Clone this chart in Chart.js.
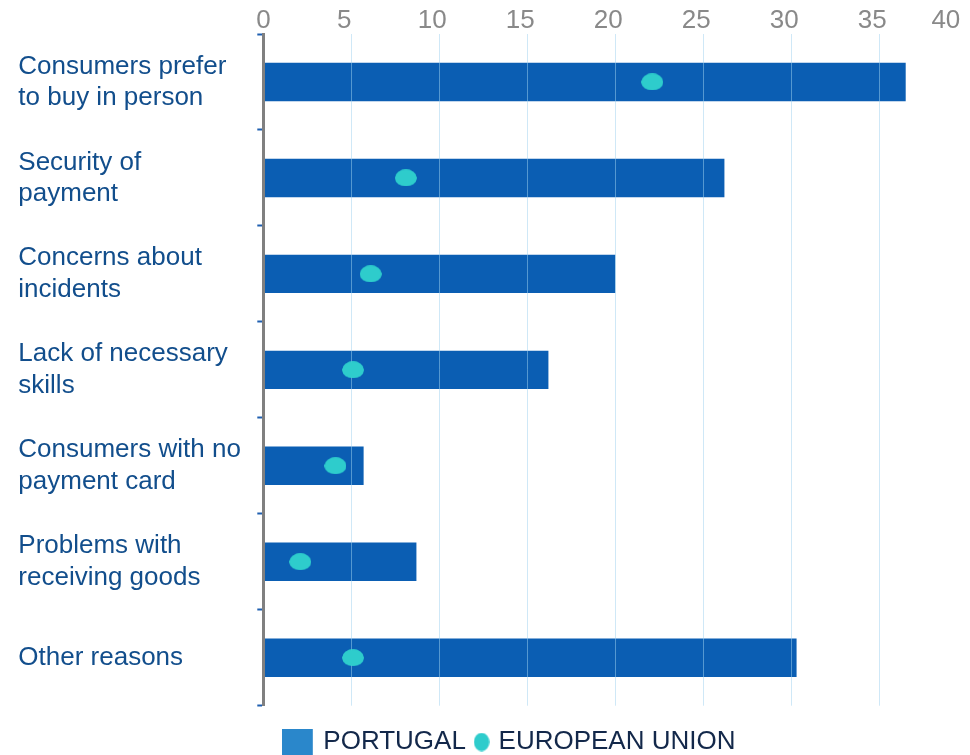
<!DOCTYPE html>
<html>
<head>
<meta charset="utf-8">
<script src="https://cdn.jsdelivr.net/npm/chart.js@4/dist/chart.umd.min.js"></script>
<style>
  html, body { margin: 0; padding: 0; background: #ffffff; overflow: hidden; }
  #wrap { width: 970px; height: 755px; position: relative; }
</style>
</head>
<body>
<div id="wrap"><canvas id="chart" width="970" height="755"></canvas></div>
<script>
// Reasons for not buying online, share of respondents (%)
const categories = [
  ['Consumers prefer', 'to buy in person'],
  ['Security of', 'payment'],
  ['Concerns about', 'incidents'],
  ['Lack of necessary', 'skills'],
  ['Consumers with no', 'payment card'],
  ['Problems with', 'receiving goods'],
  ['Other reasons']
];
const portugal = [36.5, 26.2, 20.0, 16.2, 5.7, 8.7, 30.3];
const europeanUnion = [22.1, 8.1, 6.1, 5.1, 4.1, 2.1, 5.1];
const seriesNames = ['PORTUGAL', 'EUROPEAN UNION'];
const xMin = 0;
const xMax = 40;
const xStep = 5;

const FONT = "'Liberation Sans', Arial, Helvetica, sans-serif";
const BAR_BLUE = '#0b5eb3';
const DOT_TEAL = '#2ecccc';
const LEGEND_BLUE = '#2a87cb';

// Elliptical marker used for the EU points
function ellipseMarker(w, h, color) {
  const c = document.createElement('canvas');
  c.width = w; c.height = h;
  const g = c.getContext('2d');
  g.fillStyle = color;
  g.beginPath();
  g.ellipse(w / 2, h / 2, w / 2 - 0.25, h / 2 - 0.25, 0, 0, Math.PI * 2);
  g.fill();
  return c;
}
// Legend swatch: filled square on the left of a wider transparent tile
function swatchMarker(w, h, side, color) {
  const c = document.createElement('canvas');
  c.width = w; c.height = h;
  const g = c.getContext('2d');
  g.fillStyle = color;
  g.fillRect(0, 0, side, h);
  return c;
}

const pointMarker = ellipseMarker(22, 17, DOT_TEAL);
const legendMarkers = [swatchMarker(49, 26, 31, LEGEND_BLUE), ellipseMarker(16, 19, DOT_TEAL)];

// Keep the EU dots above the vertical grid lines
const dotsOnTop = {
  id: 'dotsOnTop',
  afterDraw(chart) {
    const meta = chart.getDatasetMeta(1);
    if (meta && !meta.hidden) meta.controller.draw();
  }
};

new Chart(document.getElementById('chart'), {
  type: 'bar',
  data: {
    labels: categories,
    datasets: [
      {
        type: 'bar',
        label: seriesNames[0],
        data: portugal,
        backgroundColor: BAR_BLUE,
        borderWidth: 0,
        barPercentage: 0.4,
        categoryPercentage: 1,
        order: 1
      },
      {
        type: 'line',
        label: seriesNames[1],
        data: europeanUnion,
        indexAxis: 'y',
        showLine: false,
        pointStyle: pointMarker,
        pointRadius: 11,
        pointHoverRadius: 11,
        backgroundColor: DOT_TEAL,
        borderColor: DOT_TEAL,
        order: 0
      }
    ]
  },
  options: {
    indexAxis: 'y',
    responsive: false,
    animation: false,
    devicePixelRatio: 1,
    layout: { autoPadding: false, padding: { left: 70.5, right: 2.7, top: 8, bottom: -10 } },
    scales: {
      x: {
        type: 'linear',
        position: 'top',
        min: xMin,
        max: xMax,
        grid: {
          z: 1,
          drawTicks: false,
          lineWidth: 1,
          color: (ctx) => (ctx.tick && (ctx.tick.value === xMin || ctx.tick.value === xMax))
            ? 'rgba(0,0,0,0)' : 'rgba(160,210,240,0.5)'
        },
        border: { display: false },
        ticks: {
          stepSize: xStep,
          align: 'inner',
          labelOffset: -7,
          padding: 0,
          color: '#898989',
          font: { family: FONT, size: 26, lineHeight: 1 }
        },
        // the end labels sit inside the axis, so no extra side padding is needed
        afterFit(scale) { scale.paddingLeft = 0; scale.paddingRight = 0; }
      },
      y: {
        type: 'category',
        position: 'left',
        grid: {
          display: true,
          offset: true,
          drawOnChartArea: false,
          drawTicks: true,
          tickLength: 6,
          tickWidth: 2,
          tickColor: '#1f5fb0'
        },
        border: { display: true, color: '#808080', width: 3, z: 1 },
        ticks: {
          autoSkip: false,
          mirror: true,
          crossAlign: 'near',
          padding: -245,
          color: '#124e8c',
          font: { family: FONT, size: 26, lineHeight: 1.2 }
        },
        afterFit(scale) { scale.width = 192.8; }
      }
    },
    plugins: {
      tooltip: { enabled: false },
      legend: {
        position: 'bottom',
        title: { display: true, text: '', padding: 0, font: { family: FONT, size: 11.6, lineHeight: 1 } },
        labels: {
          usePointStyle: true,
          boxWidth: 8,
          boxHeight: 26,
          padding: 11.7,
          color: '#13284a',
          font: { family: FONT, size: 26 },
          generateLabels: (chart) => chart.data.datasets.map((ds, i) => ({
            text: ds.label,
            pointStyle: legendMarkers[i],
            fillStyle: i === 0 ? LEGEND_BLUE : DOT_TEAL,
            strokeStyle: 'rgba(0,0,0,0)',
            lineWidth: 0,
            fontColor: '#13284a',
            hidden: false,
            datasetIndex: i
          }))
        }
      }
    }
  },
  plugins: [dotsOnTop]
});
</script>
</body>
</html>
